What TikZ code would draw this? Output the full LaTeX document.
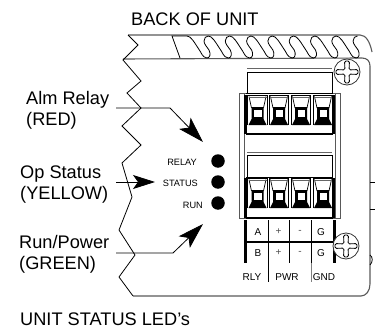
\documentclass[tikz,border=0pt]{standalone}
\usepackage{fontspec}
\setmainfont{Liberation Sans}
\usetikzlibrary{arrows.meta}
\definecolor{outl}{gray}{0.35}
\tikzset{
  big/.style={font=\fontsize{18.2}{21}\selectfont,align=left,inner sep=0pt,anchor=west},
  led/.style={font=\fontsize{9.2}{10}\selectfont,inner sep=0pt,anchor=east},
  term/.style={font=\fontsize{10}{11}\selectfont,inner sep=0pt},
  thin line/.style={line width=0.8pt,black},
  callout/.style={line width=0.8pt,black,-{Stealth[length=26pt,width=16pt,inset=6pt]}},
  calloutshort/.style={line width=0.8pt,black,-{Stealth[length=22pt,width=14pt,inset=5pt]}},
  heavy/.style={line width=3pt,black},
  ledDot/.style={circle,fill=black,minimum size=13.5pt,inner sep=0pt},
  screwbody/.style={circle,draw=black!80,fill=white,line width=0.8pt,minimum size=26pt,inner sep=0pt}
}
\newcommand{\cellpart}[2]{%
  \begin{scope}[shift={(#1,#2)}]
    \fill[black] (-6,12) -- (6,12) -- (6,24) -- (9,30) -- (-9,30) -- (-6,24) -- cycle;
    \fill[white] (-3.5,15) rectangle (4,21.5);
    \draw[line width=0.7pt] (-9.7,30) -- (-9.7,0.5) -- (9.7,0.5) -- (9.7,30);
    \draw[line width=0.7pt] (-8.5,1.5) -- (-6,13) (8.5,1.5) -- (6,13);
    \draw[line width=0.5pt,black!60] (-9,2) -- (9,2);
  \end{scope}}
\newcommand{\screwat}[3]{%
  \node[screwbody] (#1) at (#2,#3) {};
  \draw[line width=0.8pt,rounded corners=1.5pt,shift={(#2,#3)}] (-2.5,-11) -- (2.5,-11) -- (2,-2) -- (11,-2.5) -- (11,2.5) -- (2,2) -- (2.5,11) -- (-2.5,11) -- (-2,2) -- (-11,2.5) -- (-11,-2.5) -- (-2,-2) -- cycle;}
\begin{document}
\begin{tikzpicture}[x=1pt,y=-1pt]
\useasboundingbox (0,0) rectangle (375,329);
% housing
\draw[outl,line width=1.1pt] (128,35) -- (360,35) .. controls (366,35) and (370,42) .. (372,52);
\draw[outl,line width=1.1pt] (123,59) -- (362,58) .. controls (367,58) and (370,61) .. (370,66) -- (370,284) .. controls (370,291) and (366,296) .. (361,296) -- (133,296);
\draw[thin line] (128,35) -- (138,45) -- (123,60) -- (141,81) -- (127,93) -- (141,108) -- (122,126) -- (141,145) -- (122,163) -- (132,197) -- (119,230) -- (135,255) -- (119,277) -- (133,296);
\draw[thin line] (370,182) -- (375,182) (370,209) -- (375,209);
\draw[thin line] (370,255) .. controls (373,257) and (373,262) .. (370,265);
% spring
\draw[line width=0.8pt] (180,58) -- (172,36) -- (187,36);
\foreach \b in {207,228.3,249.6,270.9,292.2,313.5,334.8,356.1}{
  \draw[line width=0.8pt] (\b-20,36) .. controls (\b-16,36) and (\b-13,42) .. (\b-7,51) .. controls (\b-4,57) and (\b-2,58) .. (\b,58) .. controls (\b+3,58) and (\b+4,54) .. (\b+2,50) .. controls (\b,47) and (\b-3,44) .. (\b-3,41) .. controls (\b-3,38) and (\b-1,36) .. (\b+1.3,36);
}
% terminal block
\draw[outl,line width=0.9pt,fill=white] (239,93) rectangle (340,218);
\draw[outl,line width=0.9pt] (244,93) -- (244,218) (335,93) -- (335,218);
\draw[black!60,line width=1pt] (247,68.5) -- (332,68.5);
\draw[line width=0.9pt] (247,72) -- (332,72) (247,72) -- (247,93) (332,72) -- (332,93);
\draw[black!60,line width=1pt] (247,152) -- (332,152);
\draw[line width=0.9pt] (247,155) rectangle (332,177);
\draw[heavy] (245.5,95) -- (245.5,134) (333.5,95) -- (333.5,134) (245.5,178) -- (245.5,218) (333.5,178) -- (333.5,218);
\draw[line width=1.6pt] (246,93.5) -- (333,93.5) (246,134) -- (333,134) (246,177.5) -- (333,177.5) (246,218) -- (333,218);
\foreach \c in {257.5,279,301,323}{\cellpart{\c}{95}\cellpart{\c}{178}}
% terminal table
\draw[heavy] (245,220) -- (245,263) (334,220) -- (334,263);
\draw[line width=1.6pt] (245,242) -- (334,242);
\draw[line width=0.8pt] (268,220) -- (268,282) (289,220) -- (289,263) (311,220) -- (311,263);
\draw[black!50,line width=1pt] (311,263) -- (311,282);
\node[term] (ta) at (258,232) {A};
\node[term] (tb) at (258,253) {B};
\node[term,black!70] (tp1) at (278.5,232) {+};
\node[term,black!70] (tp2) at (278.5,253) {+};
\node[term,black!70] (tm1) at (300,232) {-};
\node[term,black!70] (tm2) at (300,253) {-};
\node[term] (tg1) at (321,232) {G};
\node[term] (tg2) at (321,253) {G};
\node[term] (rly) at (252,277) {RLY};
\node[term] (pwr) at (287,277) {PWR};
\node[term] (gnd) at (324,277) {GND};
\screwat{s1}{347}{72}
\screwat{s2}{346}{246}
% LEDs
\node[ledDot] (l1) at (218,161) {};
\node[ledDot] (l2) at (218,182) {};
\node[ledDot] (l3) at (218,203) {};
\node[led] (t1) at (197,162) {RELAY};
\node[led] (t2) at (198,183) {STATUS};
\node[led] (t3) at (203,205) {RUN};
% texts
\node[big] (back) at (131,19) {BACK OF UNIT};
\node[big] (alm) at (26,110.5) {Alm Relay\\(RED)};
\node[big] (op) at (20,185) {Op Status\\(YELLOW)};
\node[big] (run) at (19,254) {Run/Power\\(GREEN)};
\node[big] (bottom) at (20,319) {UNIT STATUS LED's};
% callouts
\coordinate (a0) at (116,108);
\coordinate (a1) at (170,108);
\coordinate (a2) at (203,142);
\coordinate (b0) at (116,182);
\coordinate (b2) at (155,182);
\coordinate (c0) at (116,253);
\coordinate (c1) at (173,253);
\coordinate (c2) at (203,224);
\draw[callout] (a0) -- (a1) -- (a2);
\draw[calloutshort] (b0) -- (b2);
\draw[callout] (c0) -- (c1) -- (c2);
\end{tikzpicture}
\end{document}
